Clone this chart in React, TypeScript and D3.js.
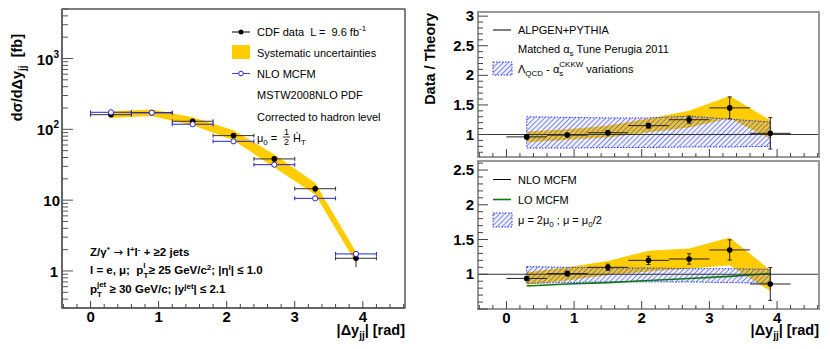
import React from 'react';
import * as d3 from 'd3';

// bin centres in |dy_jj|, each bin is 0.6 wide
const bins = [0.3, 0.9, 1.5, 2.1, 2.7, 3.3, 3.9];
const binHalf = 0.3;

// left panel: cross section [fb]
const cdfData = [161, 171, 130, 81.5, 38.2, 14.5, 1.51];
const cdfErr = [4, 4, 3, 2.5, 1.5, 1.7, 0.38];
const sysLeftUp = [180, 191, 148, 97, 44, 17.6, 1.85];
const sysLeftDn = [145, 154, 114, 70, 29, 12.0, 1.3];
const mcfmNlo = [174, 172, 118, 67.7, 31.7, 10.6, 1.74];

// top ratio: data / ALPGEN
const ratioTop = [0.96, 0.99, 1.03, 1.15, 1.25, 1.45, 1.02];
const ratioTopErr = [0.03, 0.03, 0.04, 0.04, 0.06, 0.185, 0.265];
const sysTopUp = [1.05, 1.09, 1.15, 1.27, 1.40, 1.65, 1.24];
const sysTopDn = [0.87, 0.91, 0.95, 1.04, 1.12, 1.27, 0.93];
const alpgenVarUp = [1.30, 1.29, 1.28, 1.28, 1.31, 1.26, 1.21];
const alpgenVarDn = [0.77, 0.77, 0.78, 0.78, 0.79, 0.79, 0.80];

// bottom ratio: data / NLO MCFM
const ratioBot = [0.94, 1.01, 1.10, 1.20, 1.22, 1.35, 0.86];
const ratioBotErr = [0.03, 0.035, 0.045, 0.06, 0.075, 0.145, 0.235];
const sysBotUp = [1.03, 1.10, 1.19, 1.34, 1.37, 1.53, 1.06];
const sysBotDn = [0.85, 0.91, 0.99, 1.04, 1.08, 1.13, 0.76];
const scaleVarUp = [1.11, 1.10, 1.09, 1.09, 1.08, 1.08, 1.07];
const scaleVarDn = [0.87, 0.88, 0.89, 0.89, 0.89, 0.88, 0.87];
const loMcfm = [0.83, 0.86, 0.88, 0.91, 0.94, 0.97, 1.01];

const xLabels = [0, 1, 2, 3, 4];
const font = 'Liberation Sans, Arial, Helvetica, sans-serif';
const yellow = '#ffcc00';
const nb = '\u00a0';

const xL = d3.scaleLinear().domain([-0.42, 4.62]).range([62, 405]);
const yL = d3.scaleLog().domain([0.3, 5000]).range([308, 9]);
const xR = d3.scaleLinear().domain([-0.42, 4.62]).range([478, 819]);
const yT = d3.scaleLinear().domain([0.62, 3.07]).range([157, 12]);
const yB = d3.scaleLinear().domain([0.5, 2.63]).range([309, 161]);

const isInt = (v, step) => Math.abs(v / step - Math.round(v / step)) < 1e-6;

function band(x, y, up, dn) {
  return d3.area()
    .x((d, i) => x(bins[i]))
    .y0((d, i) => y(dn[i]))
    .y1((d, i) => y(up[i]))(bins);
}

function XTicks({ x, yBase, major, minor, labels }) {
  return (
    <g>
      {x.ticks(25).map((t, i) => {
        const big = isInt(t, 1);
        return <line key={i} x1={x(t)} x2={x(t)} y1={yBase} y2={yBase - (big ? major : minor)} stroke="#444" strokeWidth={1} />;
      })}
      {labels && xLabels.map(t => (
        <text key={t} x={x(t)} y={yBase + 14} textAnchor="middle" fontSize={15} fontWeight="bold" fontFamily={font}>{t}</text>
      ))}
    </g>
  );
}

function RatioTicks({ y, x0, count, labels }) {
  return (
    <g>
      {y.ticks(count).map((t, i) => {
        const big = isInt(t, 0.5);
        return <line key={i} x1={x0} x2={x0 + (big ? 10 : 5)} y1={y(t)} y2={y(t)} stroke="#444" strokeWidth={1} />;
      })}
      {labels.map(t => (
        <text key={t} x={x0 - 4} y={y(t) + 5} textAnchor="end" fontSize={15} fontWeight="bold" fontFamily={font}>{t}</text>
      ))}
    </g>
  );
}

function RatioPoints({ x, y, vals, errs }) {
  return (
    <g stroke="#222" strokeWidth={1}>
      {bins.map((c, i) => (
        <g key={i}>
          <line x1={x(c - binHalf)} x2={x(c + binHalf)} y1={y(vals[i])} y2={y(vals[i])} />
          <line x1={x(c)} x2={x(c)} y1={y(vals[i] - errs[i])} y2={y(vals[i] + errs[i])} />
          <line x1={x(c) - 2} x2={x(c) + 2} y1={y(vals[i] - errs[i])} y2={y(vals[i] - errs[i])} />
          <line x1={x(c) - 2} x2={x(c) + 2} y1={y(vals[i] + errs[i])} y2={y(vals[i] + errs[i])} />
          <circle cx={x(c)} cy={y(vals[i])} r={2.8} fill="#000" stroke="none" />
        </g>
      ))}
    </g>
  );
}

function HatchBand({ x, y, up, dn }) {
  const d = band(x, y, up, dn);
  return (
    <g>
      <path d={d} fill="rgba(170,170,235,0.15)" />
      <path d={d} fill="url(#hatch)" />
      <path d={d} fill="none" stroke="#2233ee" strokeWidth={1} strokeDasharray="1.5,1.5" />
    </g>
  );
}

export default function App() {
  const tx = { fontFamily: font, fontSize: 11 };
  const bold = { fontFamily: font, fontSize: 11.5, fontWeight: 'bold' };
  return (
    <svg width={830} height={349} style={{ position: 'absolute', left: 0, top: 0, background: '#fff' }}>
      <defs>
        <pattern id="hatch" patternUnits="userSpaceOnUse" width={3.6} height={3.6} patternTransform="rotate(45)">
          <line x1={0.5} y1={0} x2={0.5} y2={3.6} stroke="#4455dd" strokeWidth={1} strokeOpacity={0.7} />
        </pattern>
        <clipPath id="clipL"><rect x={62} y={9} width={343} height={299} /></clipPath>
      </defs>

      {/* ---------- left panel ---------- */}
      <g clipPath="url(#clipL)">
        <path d={band(xL, yL, sysLeftUp, sysLeftDn)} fill={yellow} />
        <g stroke="#333" strokeWidth={1}>
          {bins.map((c, i) => (
            <g key={i}>
              <line x1={xL(c - binHalf)} x2={xL(c + binHalf)} y1={yL(cdfData[i])} y2={yL(cdfData[i])} />
              <line x1={xL(c - binHalf)} x2={xL(c - binHalf)} y1={yL(cdfData[i]) - 2} y2={yL(cdfData[i]) + 2} />
              <line x1={xL(c + binHalf)} x2={xL(c + binHalf)} y1={yL(cdfData[i]) - 2} y2={yL(cdfData[i]) + 2} />
              <line x1={xL(c)} x2={xL(c)} y1={yL(cdfData[i] - cdfErr[i])} y2={yL(cdfData[i] + cdfErr[i])} />
              <circle cx={xL(c)} cy={yL(cdfData[i])} r={2.8} fill="#000" stroke="none" />
            </g>
          ))}
        </g>
        <g stroke="#2222dd" strokeWidth={1}>
          {bins.map((c, i) => (
            <g key={i}>
              <line x1={xL(c - binHalf)} x2={xL(c + binHalf)} y1={yL(mcfmNlo[i])} y2={yL(mcfmNlo[i])} />
              <line x1={xL(c - binHalf)} x2={xL(c - binHalf)} y1={yL(mcfmNlo[i]) - 2} y2={yL(mcfmNlo[i]) + 2} />
              <line x1={xL(c + binHalf)} x2={xL(c + binHalf)} y1={yL(mcfmNlo[i]) - 2} y2={yL(mcfmNlo[i]) + 2} />
              <circle cx={xL(c)} cy={yL(mcfmNlo[i])} r={2.6} fill="#fff" />
            </g>
          ))}
        </g>
      </g>
      <rect x={62} y={9} width={343} height={299} fill="none" stroke="#000" strokeWidth={1} />
      <line x1={62} x2={62} y1={9} y2={308} stroke="#666" strokeWidth={2} />
      <line x1={62} x2={405} y1={308} y2={308} stroke="#666" strokeWidth={2} />
      {yL.ticks().map((t, i) => {
        const big = isInt(Math.log10(t), 1);
        return <line key={i} x1={62} x2={62 + (big ? 11 : 6)} y1={yL(t)} y2={yL(t)} stroke="#555" strokeWidth={1} />;
      })}
      <XTicks x={xL} yBase={308} major={7} minor={4} labels />
      <g textAnchor="end" fontFamily={font} fontWeight="bold" fontSize={15}>
        <text x={59} y={yL(1000) + 6}>10<tspan dy={-7} fontSize={10}>3</tspan></text>
        <text x={59} y={yL(100) + 6}>10<tspan dy={-7} fontSize={10}>2</tspan></text>
        <text x={60} y={yL(10) + 6}>10</text>
        <text x={58} y={yL(1) + 6}>1</text>
      </g>
      <text transform="translate(22,34) rotate(-90)" textAnchor="end" fontFamily={font} fontWeight="bold" fontSize={14.5}>
        dσ/dΔy<tspan dy={4} fontSize={10}>jj</tspan><tspan dy={-4}>{nb}{nb}[fb]</tspan>
      </text>
      <text x={405} y={335} textAnchor="end" fontFamily={font} fontWeight="bold" fontSize={14.5}>
        |Δy<tspan dy={4} fontSize={10}>jj</tspan><tspan dy={-4}>| [rad]</tspan>
      </text>

      {/* left legend */}
      <line x1={232} x2={250} y1={32} y2={32} stroke="#000" />
      <circle cx={241} cy={32} r={2.5} fill="#000" />
      <text x={257} y={36} {...tx}>{`CDF data${nb} L =${nb} 9.6 fb`}<tspan dy={-5} fontSize={8}>-1</tspan></text>
      <rect x={232} y={45} width={18} height={14} fill={yellow} />
      <text x={257} y={57} {...tx}>Systematic uncertainties</text>
      <line x1={232} x2={250} y1={73.5} y2={73.5} stroke="#4444ee" />
      <circle cx={241} cy={73.5} r={2.3} fill="#fff" stroke="#2222dd" />
      <text x={257} y={78} {...tx}>NLO MCFM</text>
      <text x={257} y={99} {...tx}>MSTW2008NLO PDF</text>
      <text x={257} y={121} {...tx}>Corrected to hadron level</text>
      <text x={257} y={142} {...tx}>μ<tspan dy={3} fontSize={8}>0</tspan><tspan dy={-3}> = </tspan></text>
      <text x={284} y={135} {...tx} fontSize={9}>1</text>
      <line x1={283} x2={290} y1={137} y2={137} stroke="#000" strokeWidth={0.8} />
      <text x={284} y={145} {...tx} fontSize={9}>2</text>
      <text x={293} y={142} {...tx}>Ĥ<tspan dy={3} fontSize={8}>T</tspan></text>

      {/* selection text */}
      <text x={90} y={256} {...bold}>Z/γ<tspan dy={-4} fontSize={8}>*</tspan><tspan dy={4} fontFamily="DejaVu Sans" fontWeight="normal">{' \u2192 '}</tspan><tspan>l</tspan><tspan dy={-4} fontSize={8}>+</tspan><tspan dy={4}>l</tspan><tspan dy={-4} fontSize={8}>-</tspan><tspan dy={4}> + ≥2 jets</tspan></text>
      <text x={90} y={274} {...bold}>l = e, μ;{nb} p<tspan dy={4} fontSize={8}>T</tspan><tspan dx={-5} dy={-10} fontSize={8}>l</tspan><tspan dy={6}>{' '}≥ 25 GeV/c</tspan><tspan dy={-4} fontSize={8}>2</tspan><tspan dy={4}>; |η</tspan><tspan dy={-4} fontSize={8}>l</tspan><tspan dy={4}>| ≤ 1.0</tspan></text>
      <text x={90} y={293} {...bold}>p<tspan dy={4} fontSize={8}>T</tspan><tspan dx={-5} dy={-10} fontSize={8}>jet</tspan><tspan dy={6}>{' '}≥ 30 GeV/c; |y</tspan><tspan dy={-4} fontSize={8}>jet</tspan><tspan dy={4}>| ≤ 2.1</tspan></text>

      {/* ---------- right top panel ---------- */}
      <path d={band(xR, yT, sysTopUp, sysTopDn)} fill={yellow} />
      <HatchBand x={xR} y={yT} up={alpgenVarUp} dn={alpgenVarDn} />
      <line x1={478} x2={819} y1={yT(1)} y2={yT(1)} stroke="#333" strokeWidth={1} />
      <RatioPoints x={xR} y={yT} vals={ratioTop} errs={ratioTopErr} />
      <rect x={478} y={12} width={341} height={145} fill="none" stroke="#999" strokeWidth={2} />
      <RatioTicks y={yT} x0={478} count={25} labels={[1, 1.5, 2, 2.5, 3]} />
      <XTicks x={xR} yBase={157} major={8} minor={4} />
      <text transform="translate(435,13) rotate(-90)" textAnchor="end" fontFamily={font} fontWeight="bold" fontSize={14.5}>Data / Theory</text>

      <line x1={493} x2={511} y1={30} y2={30} stroke="#000" />
      <text x={518} y={34} {...tx}>ALPGEN+PYTHIA</text>
      <text x={518} y={53} {...tx}>Matched α<tspan dy={3} fontSize={8}>s</tspan><tspan dy={-3}> Tune Perugia 2011</tspan></text>
      <rect x={493} y={62} width={19} height={13} fill="rgba(170,170,235,0.15)" />
      <rect x={493} y={62} width={19} height={13} fill="url(#hatch)" stroke="#2233ee" strokeDasharray="1.5,1.5" />
      <text x={518} y={73} {...tx}>Λ<tspan dy={3} fontSize={8}>QCD</tspan><tspan dy={-3}> - α</tspan><tspan dy={3} fontSize={8}>s</tspan><tspan dx={-4} dy={-9} fontSize={8}>CKKW</tspan><tspan dy={6}> variations</tspan></text>

      {/* ---------- right bottom panel ---------- */}
      <path d={band(xR, yB, sysBotUp, sysBotDn)} fill={yellow} />
      <HatchBand x={xR} y={yB} up={scaleVarUp} dn={scaleVarDn} />
      <path d={d3.line().x((d, i) => xR(bins[i])).y((d, i) => yB(loMcfm[i]))(bins)} fill="none" stroke="#117711" strokeWidth={1.6} />
      <line x1={478} x2={819} y1={yB(1)} y2={yB(1)} stroke="#333" strokeWidth={1} />
      <RatioPoints x={xR} y={yB} vals={ratioBot} errs={ratioBotErr} />
      <rect x={478} y={161} width={341} height={148} fill="none" stroke="#999" strokeWidth={2} />
      <RatioTicks y={yB} x0={478} count={20} labels={[1, 1.5, 2, 2.5]} />
      <XTicks x={xR} yBase={309} major={8} minor={4} labels />
      <text x={819} y={335} textAnchor="end" fontFamily={font} fontWeight="bold" fontSize={14.5}>
        |Δy<tspan dy={4} fontSize={10}>jj</tspan><tspan dy={-4}>| [rad]</tspan>
      </text>

      <line x1={493} x2={511} y1={179.5} y2={179.5} stroke="#000" />
      <text x={518} y={183.5} {...tx}>NLO MCFM</text>
      <line x1={493} x2={511} y1={199.5} y2={199.5} stroke="#117711" strokeWidth={1.6} />
      <text x={518} y={203.5} {...tx}>LO MCFM</text>
      <rect x={493} y={213} width={19} height={14} fill="rgba(170,170,235,0.15)" />
      <rect x={493} y={213} width={19} height={14} fill="url(#hatch)" stroke="#2233ee" strokeDasharray="1.5,1.5" />
      <text x={518} y={224} {...tx}>μ = 2μ<tspan dy={3} fontSize={8}>0</tspan><tspan dy={-3}> ; μ = μ</tspan><tspan dy={3} fontSize={8}>0</tspan><tspan dy={-3}>/2</tspan></text>
    </svg>
  );
}
